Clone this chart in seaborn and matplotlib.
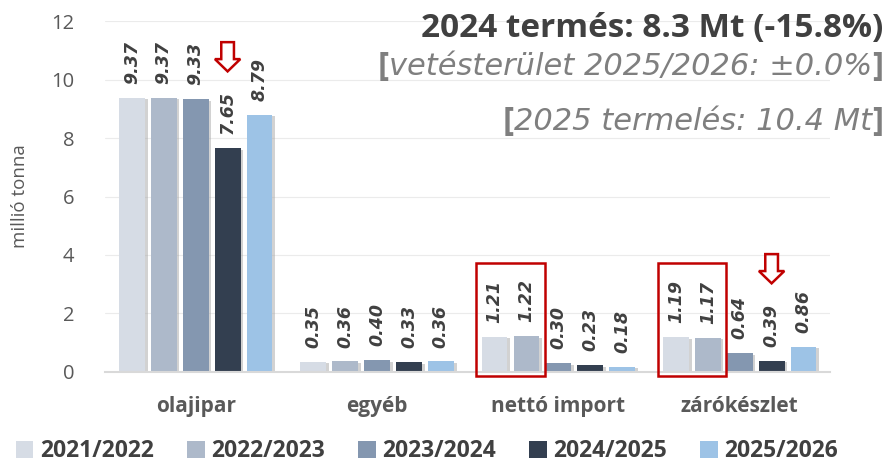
import pandas as pd
import numpy as np
import seaborn as sns
import matplotlib.pyplot as plt
import matplotlib.patheffects as pe
from matplotlib.patches import FancyArrow, Rectangle

# data
categories = ['olajipar', 'egyéb', 'nettó import', 'zárókészlet']
seasons = ['2021/2022', '2022/2023', '2023/2024', '2024/2025', '2025/2026']
values_2122 = [9.37, 0.35, 1.21, 1.19]
values_2223 = [9.37, 0.36, 1.22, 1.17]
values_2324 = [9.33, 0.40, 0.30, 0.64]
values_2425 = [7.65, 0.33, 0.23, 0.39]
values_2526 = [8.79, 0.36, 0.18, 0.86]
colors = ['#D6DCE5', '#ADB9CA', '#8497B0', '#333F50', '#9DC3E6']

headline = '2024 termés: 8.3 Mt (-15.8%)'
note_area = 'vetésterület 2025/2026: ±0.0%'
note_prod = '2025 termelés: 10.4 Mt'

rows = []
for season, vals in zip(seasons, [values_2122, values_2223, values_2324, values_2425, values_2526]):
    for cat, v in zip(categories, vals):
        rows.append([cat, season, v])
df = pd.DataFrame(rows, columns=['kategoria', 'szezon', 'ertek'])

sns.set_style('white')
plt.rcParams['font.family'] = ['Open Sans', 'DejaVu Sans']

fig = plt.figure(figsize=(8.9, 4.69), dpi=100)
ax = fig.add_axes([0.118, 0.207, 0.815, 0.748])

sns.barplot(data=df, x='kategoria', y='ertek', hue='szezon', palette=colors,
            width=0.88, gap=0.19, ax=ax, legend=True, saturation=1, linewidth=0)

for p in ax.patches:
    p.set_path_effects([pe.SimplePatchShadow(offset=(2, -1), shadow_rgbFace='#A6A6A6', alpha=0.5),
                        pe.Normal()])

for cont in ax.containers:
    ax.bar_label(cont, fmt='%.2f', rotation=90, padding=10, fontsize=12.5, family='DejaVu Sans',
                 fontweight='bold', fontstyle='italic', color='#404040')

ax.set_ylim(0, 12)
ax.set_xlim(-0.5, 3.5)
ax.set_yticks(np.arange(0, 13, 2))
ax.yaxis.grid(True, color='#EBEBEB', lw=0.8)
ax.set_axisbelow(True)
for s in ['top', 'right', 'left']:
    ax.spines[s].set_visible(False)
ax.spines['bottom'].set_color('#D9D9D9')
ax.spines['bottom'].set_linewidth(1.5)
ax.tick_params(axis='both', length=0)
ax.tick_params(axis='y', pad=22, labelsize=14.5, labelcolor='#595959')
ax.tick_params(axis='x', pad=17, labelsize=15, labelcolor='#595959')
for t in ax.get_xticklabels():
    t.set_fontweight('bold')
ax.set_xlabel('')
ax.set_ylabel('millió tonna', fontsize=13.5, color='#595959', labelpad=16)

# legend at the bottom
handles, labels = ax.get_legend_handles_labels()
ax.legend_.remove()
leg = fig.legend(handles, labels, loc='lower center', bbox_to_anchor=(0.48, -0.032), ncol=5,
                 frameon=False, handlelength=0.75, handleheight=0.75, handletextpad=0.3,
                 columnspacing=1.45, prop={'weight': 'bold', 'size': 16.5})
for t in leg.get_texts():
    t.set_color('#404040')
for h in leg.legend_handles:
    h.set_path_effects([])

# red boxes around the first two seasons of nettó import and zárókészlet
first = ax.containers[0]
second = ax.containers[1]
for i in [2, 3]:
    b1 = first.patches[i]
    b2 = second.patches[i]
    x0 = b1.get_x() - 0.03
    x1 = b2.get_x() + b2.get_width() + 0.03
    ax.add_patch(Rectangle((x0, -0.14), x1 - x0, 3.87, fill=False, ec='#C00000', lw=1.8,
                           clip_on=False, zorder=5))

# hollow down arrows above the 2024/2025 bars
dark = ax.containers[3]
for i, y_top in [(0, 11.28), (3, 4.03)]:
    b = dark.patches[i]
    xc = b.get_x() + b.get_width() / 2
    ax.add_patch(FancyArrow(xc, y_top, 0, -1.0, width=0.07, head_width=0.14, head_length=0.42,
                            length_includes_head=True, fill=False, ec='#C00000', lw=1.8, zorder=5))

# texts top right, brackets bold and upright
fig.text(0.992, 0.921, headline, ha='right', va='baseline', fontsize=24, fontweight='bold',
         color='#404040')
fig.canvas.draw()
renderer = fig.canvas.get_renderer()
inv = fig.transFigure.inverted()
for txt, yb in [(note_area, 0.84), (note_prod, 0.722)]:
    r = fig.text(0.992, yb, ']', ha='right', va='baseline', fontsize=24, fontweight='bold',
                 color='#7F7F7F')
    x_left = inv.transform(r.get_window_extent(renderer))[0][0]
    m = fig.text(x_left, yb, txt, ha='right', va='baseline', fontsize=22, fontstyle='italic',
                 family='DejaVu Sans', color='#7F7F7F')
    x_left = inv.transform(m.get_window_extent(renderer))[0][0]
    fig.text(x_left, yb, '[', ha='right', va='baseline', fontsize=24, fontweight='bold',
             color='#7F7F7F')

fig.savefig('out.png', dpi=100)
